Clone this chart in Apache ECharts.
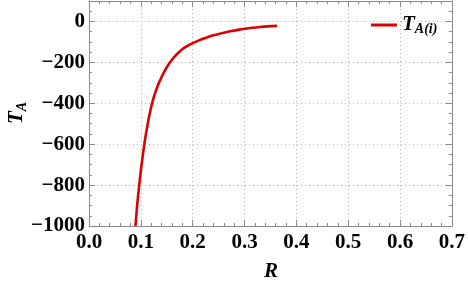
<!DOCTYPE html>
<html><head><meta charset="utf-8">
<script src="https://cdn.jsdelivr.net/npm/echarts@6/dist/echarts.min.js"></script>
<style>html,body{margin:0;padding:0;background:#fff}#c{width:468px;height:284px}</style>
</head><body><div id="c"></div>
<script>
const R = [0.0897, 0.0925, 0.095, 0.0975, 0.100, 0.1025, 0.105, 0.1075, 0.110, 0.1125, 0.115, 0.118, 0.121, 0.125, 0.130, 0.135, 0.140, 0.145, 0.150, 0.155, 0.160, 0.165, 0.170, 0.175, 0.180, 0.185, 0.190, 0.195, 0.200, 0.210, 0.220, 0.231, 0.240, 0.250, 0.260, 0.275, 0.290, 0.300, 0.315, 0.330, 0.345, 0.363];
const TA = [-1000, -910, -845, -785, -730, -680, -632, -587, -547, -512, -477, -440, -407, -370, -332, -300, -272, -247, -224, -204, -187, -172, -159, -147, -136, -127, -119, -112, -106, -95, -85, -75, -68, -61, -55, -47, -40, -36, -31, -27, -24, -21];
const xTicks = [0.0, 0.1, 0.2, 0.3, 0.4, 0.5, 0.6, 0.7];
const yTicks = [-1000, -800, -600, -400, -200, 0];
const seriesName = 'T_A(i)';

const font = 'Liberation Serif';
const frame = '#8a8a8a';
const data = R.map((r, i) => [r, TA[i]]);
const chart = echarts.init(document.getElementById('c'));
const commonX = {
  type: 'value', min: 0, max: 0.7, interval: 0.1,
  axisLine: {show: true, onZero: false, lineStyle: {color: frame, width: 1}},
  axisTick: {show: true, inside: true, length: 6, lineStyle: {color: frame}},
  minorTick: {show: true, splitNumber: 5, length: 3, lineStyle: {color: frame}},
};
const commonY = {
  type: 'value', min: -1000, max: 100, interval: 200,
  axisLine: {show: true, onZero: false, lineStyle: {color: frame, width: 1}},
  axisTick: {show: true, inside: true, length: 6, lineStyle: {color: frame}},
  minorTick: {show: true, splitNumber: 4, length: 3, lineStyle: {color: frame}},
};
chart.setOption({
  animation: false,
  backgroundColor: '#fff',
  grid: {left: 89, right: 12, top: 1, bottom: 58},
  legend: {
    left: 366, top: 5, icon: 'rect', itemWidth: 26, itemHeight: 3, itemGap: 7,
    data: [seriesName],
    formatter: () => '{t|T}{s|A(i)}',
    textStyle: {
      rich: {
        t: {fontFamily: font, fontWeight: 'bold', fontStyle: 'italic', fontSize: 21, color: '#000', verticalAlign: 'top', lineHeight: 22},
        s: {fontFamily: font, fontWeight: 'bold', fontStyle: 'italic', fontSize: 14, color: '#000', verticalAlign: 'bottom', padding: [12, 0, 0, 0], lineHeight: 22}
      }
    }
  },
  xAxis: [
    Object.assign({}, commonX, {
      position: 'bottom',
      axisLabel: {show: true, margin: 6, color: '#000', fontFamily: font, fontWeight: 'bold', fontSize: 21,
        formatter: v => v.toFixed(1)},
      splitLine: {show: true, lineStyle: {color: '#b0b0b0', type: [1, 3], width: 1}}
    }),
    Object.assign({}, commonX, {
      position: 'top',
      axisLabel: {show: false}, splitLine: {show: false}
    })
  ],
  yAxis: [
    Object.assign({}, commonY, {
      position: 'left',
      axisLabel: {show: true, margin: 4, color: '#000', fontFamily: font, fontWeight: 'bold', fontSize: 21,
        formatter: v => (yTicks.indexOf(v) < 0 ? '' : (v < 0 ? '\u2212' + Math.abs(v) : String(v)))},
      splitLine: {show: true, lineStyle: {color: '#b0b0b0', type: [1, 3], width: 1}}
    }),
    Object.assign({}, commonY, {
      position: 'right',
      axisLabel: {show: false}, splitLine: {show: false}
    })
  ],
  graphic: [
    {type: 'text', left: 264, top: 261, style: {text: 'R', fontFamily: font, fontWeight: 'bold', fontStyle: 'italic', fontSize: 21, fill: '#000'}},
    {type: 'text', x: 6, y: 124, rotation: Math.PI / 2,
      style: {text: '{t|T}{s|A}', rich: {
        t: {fontFamily: font, fontWeight: 'bold', fontStyle: 'italic', fontSize: 21, fill: '#000', verticalAlign: 'top', lineHeight: 22},
        s: {fontFamily: font, fontWeight: 'bold', fontStyle: 'italic', fontSize: 14, fill: '#000', padding: [10, 0, 0, 0], lineHeight: 22}
      }}}
  ],
  series: [{
    name: seriesName, type: 'line', xAxisIndex: 0, yAxisIndex: 0, data: data,
    smooth: 0.3, showSymbol: false, symbol: 'none',
    lineStyle: {color: '#dc0000', width: 2.6}, itemStyle: {color: '#dc0000'}
  }]
});
</script></body></html>
